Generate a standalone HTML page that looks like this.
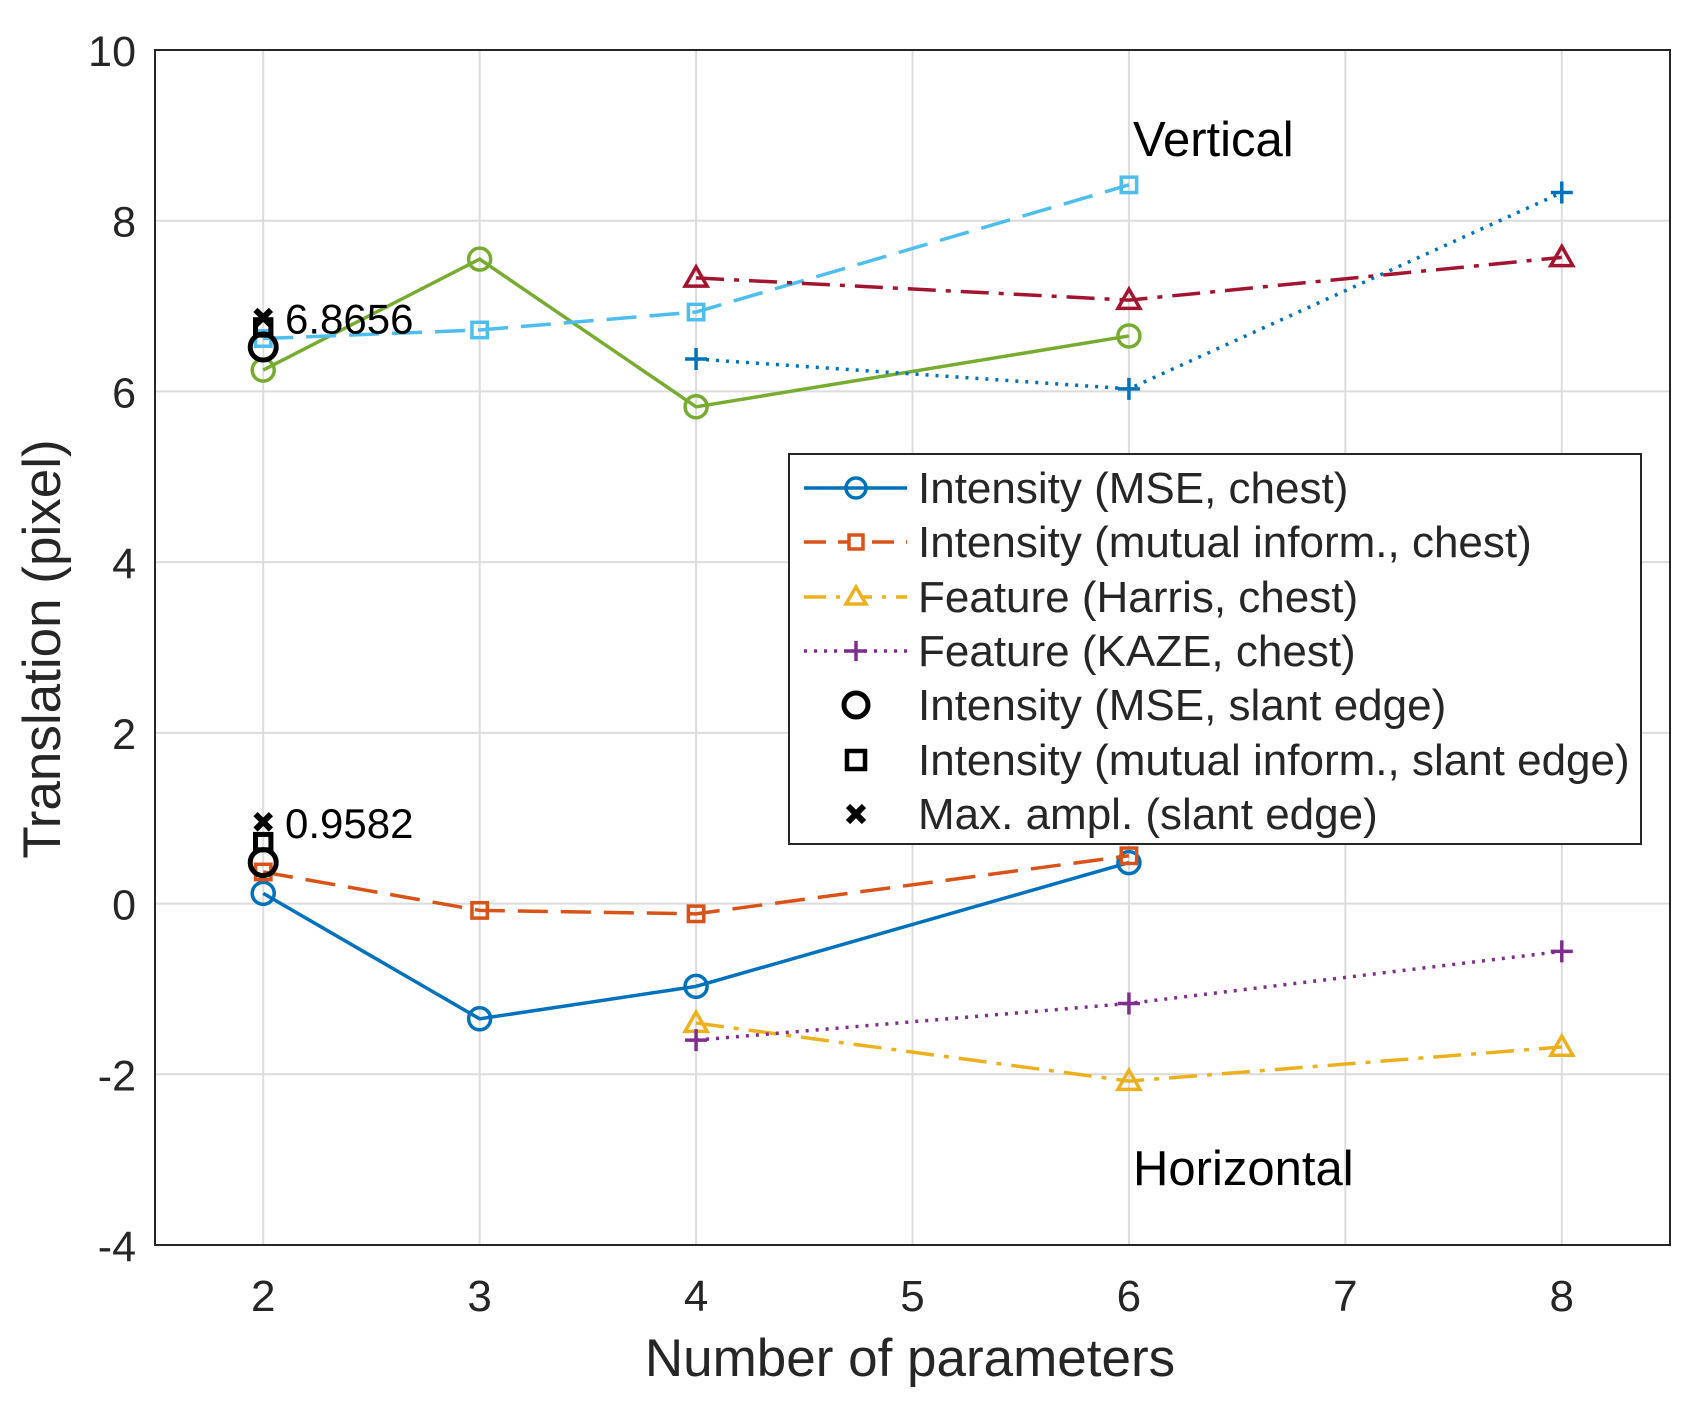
<!DOCTYPE html>
<html><head><meta charset="utf-8"><style>body{margin:0;background:#fff}svg{display:block}text{font-family:"Liberation Sans",sans-serif;fill:#262626}</style></head>
<body>
<svg id="c" width="1695" height="1401"></svg>
<script>
const xTicks=[2,3,4,5,6,7,8];
const yTicks=[-4,-2,0,2,4,6,8,10];
const vMseX=[2,3,4,6], vMseY=[6.25,7.55,5.82,6.65];
const vMiX=[2,3,4,6], vMiY=[6.62,6.72,6.93,8.42];
const vHarX=[4,6,8], vHarY=[7.33,7.07,7.57];
const vKazX=[4,6,8], vKazY=[6.38,6.03,8.33];
const hMseX=[2,3,4,6], hMseY=[0.12,-1.35,-0.97,0.48];
const hMiX=[2,3,4,6], hMiY=[0.37,-0.08,-0.12,0.56];
const hHarX=[4,6,8], hHarY=[-1.4,-2.08,-1.68];
const hKazX=[4,6,8], hKazY=[-1.6,-1.17,-0.56];
const slantMse=[6.52,0.48], slantMi=[6.75,0.72], slantMax=[6.8656,0.9582];
const L=155,R=1670,T=50,B=1245;
const sx=v=>L+(v-1.5)*(R-L)/7, sy=v=>T+(10-v)*(B-T)/14;
const svg=document.getElementById('c');const NS='http://www.w3.org/2000/svg';
function mk(tag,a,p){const e=document.createElementNS(NS,tag);for(const k in a)e.setAttribute(k,a[k]);(p||svg).appendChild(e);return e;}
xTicks.forEach(v=>{const l=mk('line',{x1:sx(v),x2:sx(v),y1:T,y2:B,stroke:'#dcdcdc','stroke-width':2});

const t=mk('text',{x:sx(v),y:1311,'text-anchor':'middle','font-size':44});t.textContent=v;
});
yTicks.forEach(v=>{const l=mk('line',{x1:L,x2:R,y1:sy(v),y2:sy(v),stroke:'#dcdcdc','stroke-width':2});

const t=mk('text',{x:136,y:sy(v)+16,'text-anchor':'end','font-size':43});t.textContent=v;
});
const ax=mk('rect',{x:L,y:T,width:R-L,height:B-T,fill:'none',stroke:'#262626','stroke-width':2});

function marker(g,type,x,y,col,s,w){s=s||11;w=w||3.5;
 if(type==='o')mk('circle',{cx:x,cy:y,r:s,fill:'none',stroke:col,'stroke-width':w},g);
 else if(type==='s')mk('rect',{x:x-s*0.7,y:y-s*0.7,width:s*1.4,height:s*1.4,fill:'none',stroke:col,'stroke-width':w},g);
 else if(type==='^')mk('path',{d:`M${x} ${y-s}L${x+s} ${y+s*0.75}L${x-s} ${y+s*0.75}Z`,fill:'none',stroke:col,'stroke-width':w},g);
 else if(type==='+')mk('path',{d:`M${x-s} ${y}H${x+s}M${x} ${y-s}V${y+s}`,stroke:col,'stroke-width':w},g);
 else if(type==='x')mk('path',{d:`M${x-s*0.7} ${y-s*0.7}L${x+s*0.7} ${y+s*0.7}M${x+s*0.7} ${y-s*0.7}L${x-s*0.7} ${y+s*0.7}`,stroke:col,'stroke-width':6},g);}
const dashes={solid:'',dash:'30 13',dashdot:'28 10 5 10',dot:'3 7'};
function series(name,xs,ys,col,ls,m){const g=mk('g',{});
 mk('polyline',{points:xs.map((x,i)=>sx(x)+','+sy(ys[i])).join(' '),fill:'none',stroke:col,'stroke-width':3.5,'stroke-dasharray':dashes[ls]},g);
 xs.forEach((x,i)=>marker(g,m,sx(x),sy(ys[i]),col));}
series('vertical-mse-series',vMseX,vMseY,'#77AC30','solid','o');
series('vertical-mi-series',vMiX,vMiY,'#4DBEEE','dash','s');
series('vertical-harris-series',vHarX,vHarY,'#A2142F','dashdot','^');
series('vertical-kaze-series',vKazX,vKazY,'#0072BD','dot','+');
series('horizontal-mse-series',hMseX,hMseY,'#0072BD','solid','o');
series('horizontal-mi-series',hMiX,hMiY,'#D95319','dash','s');
series('horizontal-harris-series',hHarX,hHarY,'#EDB120','dashdot','^');
series('horizontal-kaze-series',hKazX,hKazY,'#7E2F8E','dot','+');
const sg=mk('g',{});
slantMse.forEach(v=>marker(sg,'o',sx(2),sy(v),'#000',13,5));
slantMi.forEach(v=>marker(sg,'s',sx(2),sy(v),'#000',11,5));
slantMax.forEach(v=>marker(sg,'x',sx(2),sy(v),'#000',11));
slantMax.forEach(v=>{const t=mk('text',{x:285,y:sy(v)+16,'font-size':42,style:'fill:#000'});t.textContent=v.toFixed(4);
});
</script>
<svg width="1695" height="1401" style="position:absolute;left:0;top:0">
<text x="1133" y="156" font-size="49" style="fill:#000">Vertical</text>
<text x="1133" y="1185" font-size="49" style="fill:#000">Horizontal</text>
<text x="910" y="1376" font-size="53" text-anchor="middle">Number of parameters</text>
<text transform="translate(60,649) rotate(-90)" font-size="53" text-anchor="middle">Translation (pixel)</text>
<g>
<rect x="789" y="454" width="852" height="390" fill="#fff" stroke="#262626" stroke-width="2"/>
<g font-size="44" style="fill:#000">
<line x1="804" x2="907" y1="488" y2="488" stroke="#0072BD" stroke-width="3.5"/><circle cx="856" cy="488" r="10" fill="none" stroke="#0072BD" stroke-width="3.5"/>
<text x="918" y="503">Intensity (MSE, chest)</text>
<line x1="804" x2="907" y1="542" y2="542" stroke="#D95319" stroke-width="3.5" stroke-dasharray="22 12"/><rect x="849" y="535" width="14" height="14" fill="#fff" stroke="#D95319" stroke-width="3.5"/>
<text x="918" y="557">Intensity (mutual inform., chest)</text>
<line x1="804" x2="907" y1="597" y2="597" stroke="#EDB120" stroke-width="3.5" stroke-dasharray="22 10 4 10"/><path d="M856 587L866 604L846 604Z" fill="#fff" stroke="#EDB120" stroke-width="3.5"/>
<text x="918" y="612">Feature (Harris, chest)</text>
<line x1="804" x2="907" y1="651" y2="651" stroke="#7E2F8E" stroke-width="3.5" stroke-dasharray="3 7"/><path d="M846 651H866M856 641V661" stroke="#7E2F8E" stroke-width="3.5"/>
<text x="918" y="666">Feature (KAZE, chest)</text>
<circle cx="856" cy="705" r="12" fill="none" stroke="#000" stroke-width="5"/>
<text x="918" y="720">Intensity (MSE, slant edge)</text>
<rect x="847" y="751" width="18" height="18" fill="none" stroke="#000" stroke-width="4.5"/>
<text x="918" y="775">Intensity (mutual inform., slant edge)</text>
<path d="M848 806L864 822M864 806L848 822" stroke="#000" stroke-width="6"/>
<text x="918" y="829">Max. ampl. (slant edge)</text>
</g></g>
</svg>
</body></html>
